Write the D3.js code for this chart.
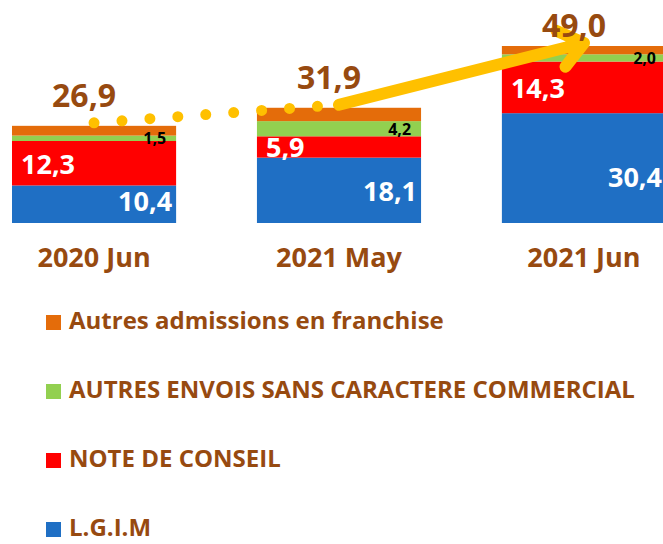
<!DOCTYPE html>
<html>
<head>
<meta charset="utf-8">
<script src="https://cdn.jsdelivr.net/npm/d3@7"></script>
<style>
  body { margin: 0; background: #fff; }
  text { font-family: "Open Sans", Lato, sans-serif; font-weight: bold; }
</style>
</head>
<body>
<svg id="chart" width="663" height="544"></svg>
<script>
// Data
var categories = ['2020 Jun', '2021 May', '2021 Jun'];
var lgim = [10.4, 18.1, 30.4];
var noteConseil = [12.3, 5.9, 14.3];
var autresEnvois = [1.5, 4.2, 2.0];
var autresAdmissions = [2.7, 3.7, 2.3];
var totals = [26.9, 31.9, 49.0];

var seriesKeys = ['lgim', 'note', 'envois', 'admissions'];
var seriesNames = ['L.G.I.M', 'NOTE DE CONSEIL', 'AUTRES ENVOIS SANS CARACTERE COMMERCIAL', 'Autres admissions en franchise'];
var seriesColors = ['#1f6fc4', '#ff0000', '#92d050', '#e46c0a'];

var rows = categories.map(function(c, i) {
  return { cat: c, lgim: lgim[i], note: noteConseil[i], envois: autresEnvois[i], admissions: autresAdmissions[i], total: totals[i] };
});

var svg = d3.select('#chart');
var brown = '#974a10';
var gold = '#ffc000';

var fmt = d3.formatLocale({ decimal: ',', thousands: ' ', grouping: [3], currency: ['', ''] }).format('.1f');

// Scales
var x = d3.scaleBand()
  .domain(categories)
  .range([12, 666])
  .paddingInner(0.33)
  .paddingOuter(0);

var y = d3.scaleLinear()
  .domain([0, 49])
  .range([223, 46]);

var stacked = d3.stack().keys(seriesKeys)(rows);

// Bars
var layers = svg.selectAll('.layer')
  .data(stacked)
  .enter()
  .append('g')
  .attr('class', 'layer')
  .attr('fill', function(d, i) { return seriesColors[i]; });

layers.selectAll('rect')
  .data(function(d) { return d; })
  .enter()
  .append('rect')
  .attr('x', function(d) { return x(d.data.cat); })
  .attr('y', function(d) { return y(d[1]); })
  .attr('width', x.bandwidth())
  .attr('height', function(d) { return y(d[0]) - y(d[1]); });

// Segment labels
svg.append('g').selectAll('text')
  .data(stacked[0])
  .enter()
  .append('text')
  .attr('x', function(d) { return x(d.data.cat) + x.bandwidth() - 4; })
  .attr('y', function(d) { return y(d[0] + 0.33 * (d[1] - d[0])); })
  .attr('text-anchor', 'end')
  .attr('fill', '#fff')
  .attr('font-size', 27)
  .text(function(d) { return fmt(d.data.lgim); });

svg.append('g').selectAll('text')
  .data(stacked[1])
  .enter()
  .append('text')
  .attr('x', function(d) { return x(d.data.cat) + 9; })
  .attr('y', function(d) { return (y(d[0]) + y(d[1])) / 2 + 10.5; })
  .attr('fill', '#fff')
  .attr('font-size', 27)
  .text(function(d) { return fmt(d.data.note); });

svg.append('g').selectAll('text')
  .data(stacked[2])
  .enter()
  .append('text')
  .attr('x', function(d) { return x(d.data.cat) + x.bandwidth() - 10; })
  .attr('y', function(d) { return (y(d[0]) + y(d[1])) / 2 + 6; })
  .attr('text-anchor', 'end')
  .attr('fill', '#000')
  .attr('font-size', 16)
  .text(function(d) { return fmt(d.data.envois); });

// Trend: dotted from first to second total, arrow from second to third
var pts = rows.map(function(d) {
  return [x(d.cat) + x.bandwidth() / 2, y(d.total) - 3];
});

svg.append('path')
  .attr('d', d3.line()(pts.slice(0, 2)))
  .attr('fill', 'none')
  .attr('stroke', gold)
  .attr('stroke-width', 11)
  .attr('stroke-linecap', 'round')
  .attr('stroke-dasharray', '0 28');

var a = pts[1], b = pts[2];
var ang = Math.atan2(a[1] - b[1], a[0] - b[0]);
var headLen = 30, headAng = 38 * Math.PI / 180;
var barb1 = [b[0] + headLen * Math.cos(ang + headAng), b[1] + headLen * Math.sin(ang + headAng)];
var barb2 = [b[0] + headLen * Math.cos(ang - headAng), b[1] + headLen * Math.sin(ang - headAng)];

svg.append('path')
  .attr('d', d3.line()([a, b]) + d3.line()([barb1, b, barb2]))
  .attr('fill', 'none')
  .attr('stroke', gold)
  .attr('stroke-width', 12)
  .attr('stroke-linecap', 'round')
  .attr('stroke-linejoin', 'round');

// Totals
svg.append('g').selectAll('text')
  .data(rows)
  .enter()
  .append('text')
  .attr('x', function(d) { return x(d.cat) + x.bandwidth() / 2 - 10; })
  .attr('y', function(d) { return Math.max(y(d.total) - 19, 37); })
  .attr('text-anchor', 'middle')
  .attr('fill', brown)
  .attr('font-size', 32)
  .text(function(d) { return fmt(d.total); });

// Category labels
svg.append('g').selectAll('text')
  .data(categories)
  .enter()
  .append('text')
  .attr('x', function(d) { return x(d) + x.bandwidth() / 2; })
  .attr('y', 267)
  .attr('text-anchor', 'middle')
  .attr('fill', brown)
  .attr('font-size', 27)
  .text(function(d) { return d; });

// Legend, top to bottom in reverse stack order
var legendOrder = [3, 2, 1, 0];
var legend = svg.append('g').selectAll('g')
  .data(legendOrder)
  .enter()
  .append('g')
  .attr('transform', function(d, i) { return 'translate(46,' + (329 + i * 69) + ')'; });

legend.append('rect')
  .attr('x', 0)
  .attr('y', -14)
  .attr('width', 15)
  .attr('height', 15)
  .attr('fill', function(d) { return seriesColors[d]; });

legend.append('text')
  .attr('x', 23)
  .attr('y', 0)
  .attr('fill', brown)
  .attr('font-size', 24)
  .text(function(d) { return seriesNames[d]; });
</script>
</body>
</html>
